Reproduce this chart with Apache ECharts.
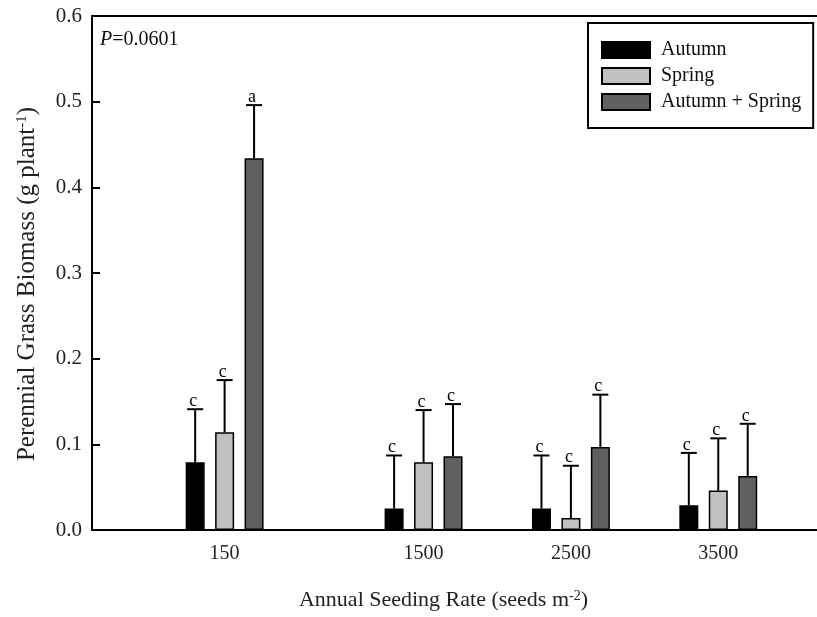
<!DOCTYPE html>
<html>
<head>
<meta charset="utf-8">
<script src="https://cdn.jsdelivr.net/npm/echarts@6/dist/echarts.min.js"></script>
<style>
html, body { margin: 0; padding: 0; background: #fff; }
#main { width: 817px; height: 617px; }
</style>
</head>
<body>
<div id="main"></div>
<script>
// seeding rates and where each group sits along the x axis
var rates = ['150', '1500', '2500', '3500'];
var ratePos = [0.9, 2.25, 3.25, 4.25];

var seriesNames = ['Autumn', 'Spring', 'Autumn + Spring'];
var autumn = [0.079, 0.025, 0.025, 0.029];
var autumnSE = [0.062, 0.062, 0.062, 0.061];
var spring = [0.114, 0.079, 0.014, 0.046];
var springSE = [0.061, 0.061, 0.061, 0.061];
var both = [0.434, 0.086, 0.097, 0.063];
var bothSE = [0.062, 0.061, 0.061, 0.061];

var autumnLetters = ['c', 'c', 'c', 'c'];
var springLetters = ['c', 'c', 'c', 'c'];
var bothLetters = ['a', 'c', 'c', 'c'];

var BAR_W = 19;
var GAP = 0.55;
var FONT = '"Liberation Serif", "Times New Roman", serif';

var chart = echarts.init(document.getElementById('main'));

function barSeries(name, vals, color) {
    return {
        name: name,
        type: 'bar',
        data: vals.map(function (v, i) { return [ratePos[i], v]; }),
        barWidth: BAR_W,
        barGap: (GAP * 100) + '%',
        itemStyle: { color: color, borderColor: '#000', borderWidth: 1.5 },
        z: 2
    };
}

function errSeries(idx, vals, se, letters) {
    return {
        type: 'custom',
        silent: true,
        z: 3,
        data: vals.map(function (v, i) { return [ratePos[i], v, se[i]]; }),
        renderItem: function (params, api) {
            var off = (idx - 1) * BAR_W * (1 + GAP);
            var base = api.coord([api.value(0), api.value(1)]);
            var top = api.coord([api.value(0), api.value(1) + api.value(2)]);
            var x = base[0] + off;
            return {
                type: 'group',
                children: [
                    { type: 'line', shape: { x1: x, y1: base[1], x2: x, y2: top[1] }, style: { stroke: '#000', lineWidth: 2 } },
                    { type: 'line', shape: { x1: x - 8, y1: top[1], x2: x + 8, y2: top[1] }, style: { stroke: '#000', lineWidth: 2 } },
                    {
                        type: 'text', x: x - 2, y: top[1] + 1,
                        style: { text: letters[params.dataIndex], fill: '#000', font: '18px ' + FONT, align: 'center', verticalAlign: 'bottom' }
                    }
                ]
            };
        }
    };
}

var option = {
    animation: false,
    backgroundColor: '#fff',
    grid: { left: 92, top: 16, right: 0, bottom: 87 },
    legend: {
        data: seriesNames,
        orient: 'vertical',
        left: 588,
        top: 23,
        icon: 'rect',
        itemWidth: 48,
        itemHeight: 16,
        itemGap: 6,
        padding: [17, 12, 16, 13],
        borderColor: '#000',
        borderWidth: 2,
        backgroundColor: '#fff',
        textStyle: { fontFamily: FONT, fontSize: 20, color: '#111', padding: [0, 0, 0, 6] }
    },
    graphic: [{
        type: 'text',
        left: 100,
        top: 30,
        style: {
            text: '{i|P}=0.0601',
            font: '20px ' + FONT,
            fill: '#111',
            rich: { i: { fontStyle: 'italic', fontFamily: FONT, fontSize: 20 } }
        }
    }],
    xAxis: [{
        type: 'value',
        min: 0,
        max: 4.92,
        splitLine: { show: false },
        axisLine: { onZero: false, lineStyle: { color: '#000', width: 2 } },
        axisTick: { show: false },
        axisLabel: {
            customValues: ratePos,
            margin: 14,
            fontFamily: FONT,
            fontSize: 20,
            color: '#222',
            formatter: function (v) {
                var i = ratePos.indexOf(v);
                return i >= 0 ? rates[i] : '';
            }
        },
        name: 'Annual Seeding Rate (seeds m{sup|-2})',
        nameLocation: 'middle',
        nameGap: 59,
        nameTextStyle: {
            fontFamily: FONT, fontSize: 22, color: '#222', padding: [0, 22, 0, 0],
            rich: { sup: { fontFamily: FONT, fontSize: 14, verticalAlign: 'top', lineHeight: 14, color: '#222' } }
        }
    }, {
        type: 'value',
        position: 'top',
        min: 0,
        max: 4.92,
        splitLine: { show: false },
        axisLine: { onZero: false, lineStyle: { color: '#000', width: 2 } },
        axisTick: { show: false },
        axisLabel: { show: false }
    }],
    yAxis: {
        type: 'value',
        min: 0,
        max: 0.6,
        interval: 0.1,
        splitLine: { show: false },
        axisLine: { show: true, lineStyle: { color: '#000', width: 2 } },
        axisTick: { show: true, inside: true, length: 8, lineStyle: { color: '#000', width: 2 } },
        axisLabel: {
            margin: 10,
            fontFamily: FONT,
            fontSize: 21,
            color: '#222',
            formatter: function (v) { return v.toFixed(1); }
        },
        name: 'Perennial Grass Biomass (g plant{sup|-1})',
        nameLocation: 'middle',
        nameRotate: 90,
        nameGap: 52,
        nameTextStyle: {
            fontFamily: FONT, fontSize: 25, color: '#222', padding: [0, 22, 0, 0],
            rich: { sup: { fontFamily: FONT, fontSize: 15, verticalAlign: 'top', lineHeight: 15, color: '#222' } }
        }
    },
    series: [
        barSeries(seriesNames[0], autumn, '#000000'),
        barSeries(seriesNames[1], spring, '#c0c0c0'),
        barSeries(seriesNames[2], both, '#606060'),
        errSeries(0, autumn, autumnSE, autumnLetters),
        errSeries(1, spring, springSE, springLetters),
        errSeries(2, both, bothSE, bothLetters)
    ]
};

chart.setOption(option);
</script>
</body>
</html>
